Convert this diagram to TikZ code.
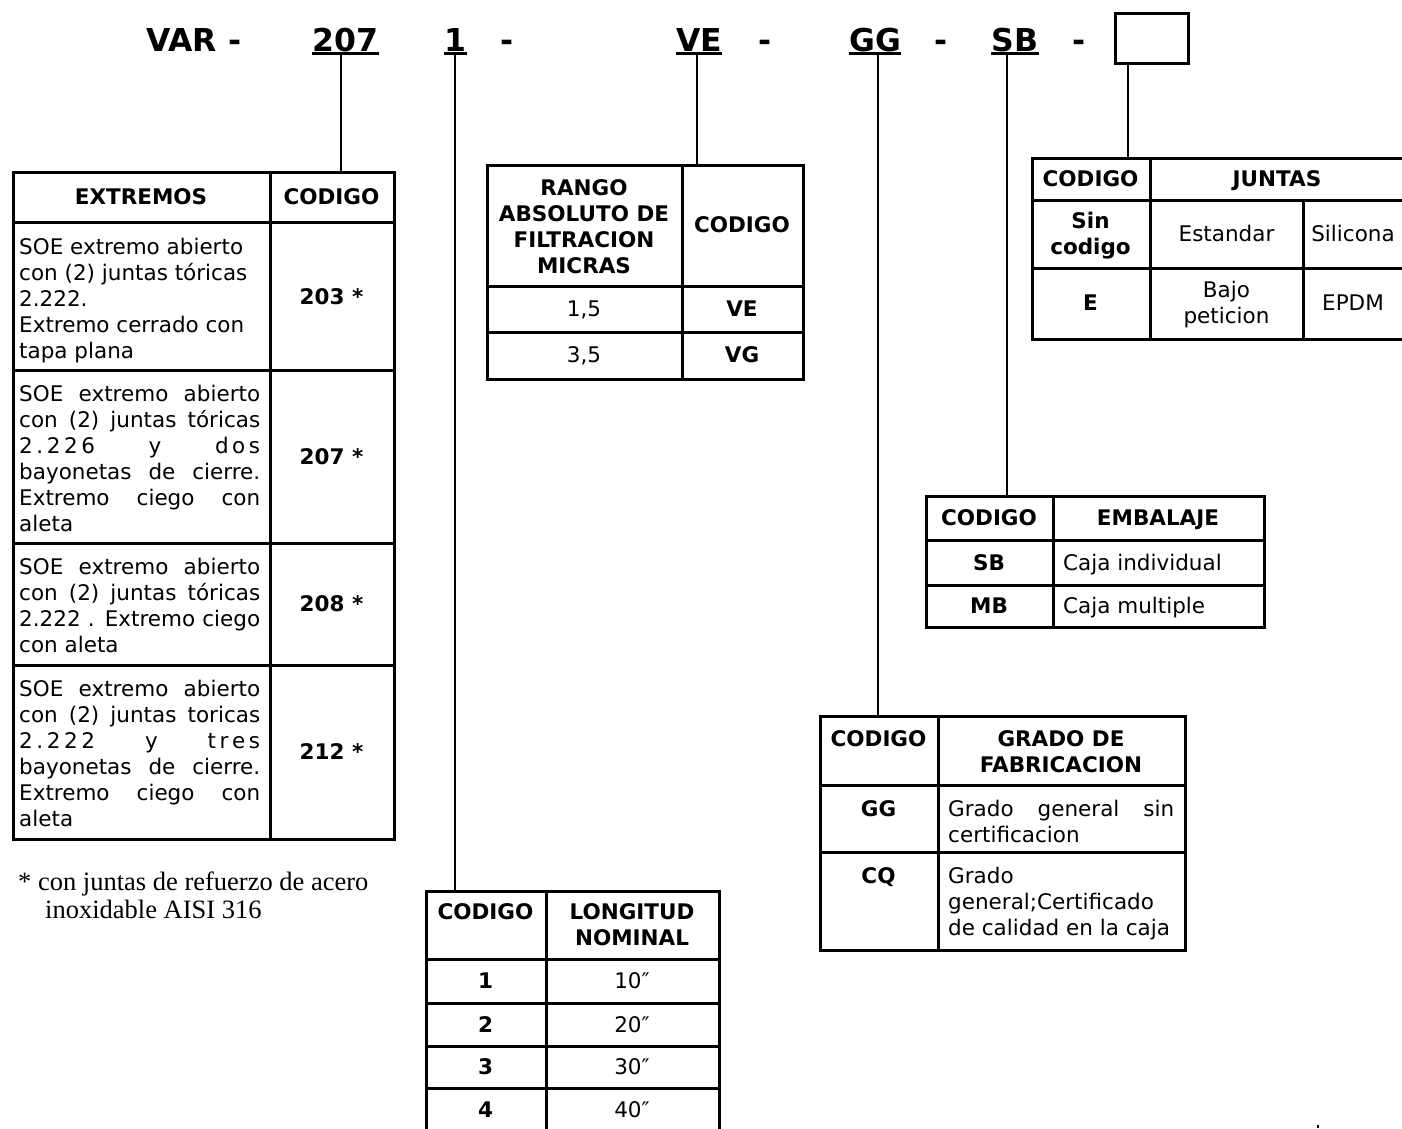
\documentclass[tikz,border=0pt]{standalone}
\usepackage{fontspec}
\setmainfont{DejaVu Sans}
\newfontfamily\fnserif{Liberation Serif}
\newcommand\J[1]{\makebox[241pt][s]{#1}}
\tikzset{
  tab/.style={draw, line width=3pt},
  tabbox/.style={draw, line width=3pt, inner sep=0pt, anchor=north west},
  conn/.style={draw, line width=2pt},
  txt/.style={inner sep=0pt, font=\fontsize{21.5}{26}\selectfont},
  btxt/.style={inner sep=0pt, font=\fontsize{21.5}{26}\selectfont\bfseries},
  ttl/.style={inner sep=0pt, anchor=base, font=\fontsize{31.5}{36}\selectfont\bfseries},
  fn/.style={inner sep=0pt, anchor=base west, font=\fnserif\fontsize{26.5}{30}\selectfont},
}
\begin{document}
\begin{tikzpicture}[x=1pt,y=-1pt]
\useasboundingbox (0,0) rectangle (1402,1128);
\clip (0,0) rectangle (1402,1128);

% ---------- title ----------
\node[ttl, anchor=base west] (var) at (146,51) {VAR -};
\node[ttl] (c207) at (345.5,51) {207};
\node[ttl] (c1) at (455.5,51) {1};
\node[ttl] (d1) at (507.5,51) {-};
\node[ttl] (cVE) at (699,51) {VE};
\node[ttl] (d2) at (765,51) {-};
\node[ttl] (cGG) at (875,51) {GG};
\node[ttl] (d3) at (941,51) {-};
\node[ttl] (cSB) at (1015,51) {SB};
\node[ttl] (d4) at (1079,51) {-};
\node[draw, line width=2.5pt, inner sep=0pt, minimum width=73pt, minimum height=50pt, anchor=north west] (bx) at (1114,12) {};
\foreach \n in {c207,c1,cVE,cGG,cSB}
  \draw[line width=2.7pt] ([yshift=-2.8pt]\n.base west) -- ([yshift=-2.8pt]\n.base east);

% ---------- tables (outer boxes) ----------
\node[tabbox, minimum width=381pt, minimum height=667pt] (tE) at (12,171) {};
\node[tabbox, minimum width=316pt, minimum height=214pt] (tR) at (486,164) {};
\node[tabbox, minimum width=373pt, minimum height=181pt] (tJ) at (1031,157) {};
\node[tabbox, minimum width=338pt, minimum height=131pt] (tB) at (925,495) {};
\node[tabbox, minimum width=365pt, minimum height=234pt] (tG) at (819,715) {};
\node[tabbox, minimum width=293pt, minimum height=241pt] (tL) at (425,890) {};

% ---------- connectors ----------
\coordinate (k207) at (341,55);
\coordinate (k1) at (455,55);
\coordinate (kVE) at (697,55);
\coordinate (kGG) at (878,55);
\coordinate (kSB) at (1007,55);
\coordinate (kbx) at (1128,62);
\draw[conn] (k207) -- (k207 |- tE.north);
\draw[conn] (k1) -- (k1 |- tL.north);
\draw[conn] (kVE) -- (kVE |- tR.north);
\draw[conn] (kGG) -- (kGG |- tG.north);
\draw[conn] (kSB) -- (kSB |- tB.north);
\draw[conn] (kbx) -- (kbx |- tJ.north);

% ---------- EXTREMOS table ----------
\draw[tab] (270,171) -- (270,838);
\foreach \y in {222,370,543,665} \draw[tab] (12,\y) -- (393,\y);
\node[btxt, anchor=base] (hE1) at (141,204) {EXTREMOS};
\node[btxt, anchor=base] (hE2) at (331.5,204) {CODIGO};
\foreach \t [count=\i from 0] in {{SOE extremo abierto},{con (2) juntas tóricas},{2.222.},{Extremo cerrado con},{tapa plana}}
  \node[txt, anchor=base west] (ra\i) at (19,{254+26*\i}) {\t};
\foreach \t [count=\i from 0] in {{\J{SOE extremo abierto}},{\J{con (2) juntas tóricas}},{\J{2\,.\,2\,2\,6 y d\,o\,s}},{\J{bayonetas de cierre.}},{\J{Extremo ciego con}},{aleta}}
  \node[txt, anchor=base west] (rb\i) at (19,{401+26*\i}) {\t};
\foreach \t [count=\i from 0] in {{\J{SOE extremo abierto}},{\J{con (2) juntas tóricas}},{\J{2.222 . Extremo ciego}},{con aleta}}
  \node[txt, anchor=base west] (rc\i) at (19,{574+26*\i}) {\t};
\foreach \t [count=\i from 0] in {{\J{SOE extremo abierto}},{\J{con (2) juntas toricas}},{\J{2\,.\,2\,2\,2 y t\,r\,e\,s}},{\J{bayonetas de cierre.}},{\J{Extremo ciego con}},{aleta}}
  \node[txt, anchor=base west] (rd\i) at (19,{696+26*\i}) {\t};
\node[btxt, anchor=base] (cE1) at (331.5,304) {203 *};
\node[btxt, anchor=base] (cE2) at (331.5,464.3) {207 *};
\node[btxt, anchor=base] (cE3) at (331.5,611.8) {208 *};
\node[btxt, anchor=base] (cE4) at (331.5,759.3) {212 *};

\node[fn] (fn1) at (18,890) {* con juntas de refuerzo de acero};
\node[fn] (fn2) at (45,918) {inoxidable AISI 316};

% ---------- RANGO table ----------
\draw[tab] (682,164) -- (682,378);
\draw[tab] (486,286) -- (802,286);
\draw[tab] (486,332) -- (802,332);
\foreach \t [count=\i from 0] in {RANGO,ABSOLUTO DE,FILTRACION,MICRAS}
  \node[btxt, anchor=base] (hR\i) at (584,{195+26*\i}) {\t};
\node[btxt, anchor=base] (hRc) at (742,232.8) {CODIGO};
\node[txt, anchor=base] (r15) at (584,316.8) {1,5};
\node[btxt, anchor=base] (rVE) at (742,316.8) {VE};
\node[txt, anchor=base] (r35) at (584,362.8) {3,5};
\node[btxt, anchor=base] (rVG) at (742,362.8) {VG};

% ---------- JUNTAS table ----------
\draw[tab] (1150,157) -- (1150,338);
\draw[tab] (1303,200) -- (1303,338);
\draw[tab] (1031,200) -- (1404,200);
\draw[tab] (1031,268) -- (1404,268);
\node[btxt, anchor=base] (hJ1) at (1090.5,186.3) {CODIGO};
\node[btxt, anchor=base] (hJ2) at (1277,186.3) {JUNTAS};
\node[btxt, anchor=base] (jS1) at (1090.5,228.8) {Sin};
\node[btxt, anchor=base] (jS2) at (1090.5,254.8) {codigo};
\node[txt, anchor=base] (jEs) at (1226.5,241.8) {Estandar};
\node[txt, anchor=base] (jSi) at (1353,241.8) {Silicona};
\node[btxt, anchor=base] (jE) at (1090.5,310.8) {E};
\node[txt, anchor=base] (jB1) at (1226.5,297.8) {Bajo};
\node[txt, anchor=base] (jB2) at (1226.5,323.8) {peticion};
\node[txt, anchor=base] (jEP) at (1353,310.8) {EPDM};

% ---------- EMBALAJE table ----------
\draw[tab] (1053,495) -- (1053,626);
\draw[tab] (925,540) -- (1263,540);
\draw[tab] (925,585) -- (1263,585);
\node[btxt, anchor=base] (hB1) at (989,525.3) {CODIGO};
\node[btxt, anchor=base] (hB2) at (1158,525.3) {EMBALAJE};
\node[btxt, anchor=base] (bSB) at (989,570.3) {SB};
\node[txt, anchor=base west] (bCi) at (1063,570.3) {Caja individual};
\node[btxt, anchor=base] (bMB) at (989,613.3) {MB};
\node[txt, anchor=base west] (bCm) at (1063,613.3) {Caja multiple};

% ---------- GRADO table ----------
\draw[tab] (938,715) -- (938,949);
\draw[tab] (819,785) -- (1184,785);
\draw[tab] (819,852) -- (1184,852);
\node[btxt, anchor=base] (hG1) at (878.5,746) {CODIGO};
\node[btxt, anchor=base] (hG2) at (1061,746) {GRADO DE};
\node[btxt, anchor=base] (hG3) at (1061,772) {FABRICACION};
\node[btxt, anchor=base] (gGG) at (878.5,816) {GG};
\node[txt, anchor=base west] (gG1) at (948,816) {\makebox[226pt][s]{Grado general sin}};
\node[txt, anchor=base west] (gG2) at (948,842) {certificacion};
\node[btxt, anchor=base] (gCQ) at (878.5,883) {CQ};
\node[txt, anchor=base west] (gC1) at (948,883) {Grado};
\node[txt, anchor=base west] (gC2) at (948,909) {general;Certificado};
\node[txt, anchor=base west] (gC3) at (948,935) {de calidad en la caja};

% ---------- LONGITUD table ----------
\draw[tab] (546,890) -- (546,1131);
\foreach \y in {959,1003,1046,1088} \draw[tab] (425,\y) -- (718,\y);
\node[btxt, anchor=base] (hL1) at (485.5,919) {CODIGO};
\node[btxt, anchor=base] (hL2) at (632,919) {LONGITUD};
\node[btxt, anchor=base] (hL3) at (632,945) {NOMINAL};
\foreach \c/\v/\y [count=\i] in {1/10/988.8,2/20/1032.3,3/30/1074.8,4/40/1117.3}{
  \node[btxt, anchor=base] (lc\i) at (485.5,\y) {\c};
  \node[txt, anchor=base] (lv\i) at (632,\y) {\v″};
}

% stray mark
\fill (1317,1125) rectangle (1319,1128);
\end{tikzpicture}
\end{document}
